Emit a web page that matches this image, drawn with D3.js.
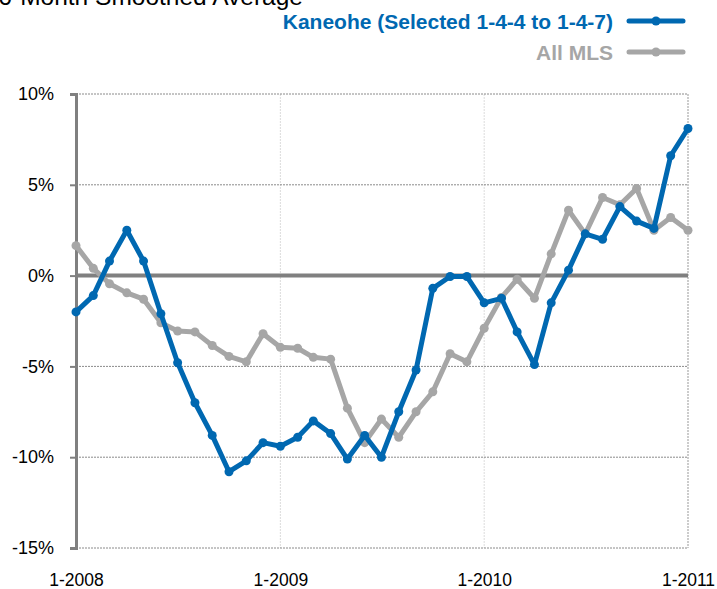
<!DOCTYPE html>
<html>
<head>
<meta charset="utf-8">
<script src="https://cdn.jsdelivr.net/npm/d3@7"></script>
<style>
  body { margin: 0; background: #fff; }
  svg { display: block; font-family: Arial, "Liberation Sans", sans-serif; }
</style>
</head>
<body>
<svg id="chart"></svg>
<script>
// chart data (monthly, 1-2008 .. 1-2011)
var startMonth = new Date(2008, 0, 1);
var kaneohe = [-2.0, -1.1, 0.8, 2.5, 0.8, -2.1, -4.8, -7.0, -8.8, -10.8, -10.2, -9.2, -9.4,
  -8.9, -8.0, -8.7, -10.1, -8.8, -10.0, -7.5, -5.2, -0.7, -0.05, -0.05, -1.5, -1.25,
  -3.1, -4.9, -1.5, 0.3, 2.3, 2.0, 3.8, 3.0, 2.6, 6.6, 8.1];
var allMls = [1.65, 0.4, -0.45, -0.95, -1.3, -2.6, -3.05, -3.1, -3.85, -4.45, -4.75, -3.2, -3.95,
  -4.0, -4.5, -4.6, -7.3, -9.2, -7.9, -8.9, -7.5, -6.4, -4.3, -4.75, -2.9, -1.2,
  -0.2, -1.25, 1.2, 3.6, 2.3, 4.3, 3.9, 4.8, 2.5, 3.2, 2.5];
var yTicks = [10, 5, 0, -5, -10, -15];
var xTickLabels = ["1-2008", "1-2009", "1-2010", "1-2011"];
var seriesNames = ["Kaneohe (Selected 1-4-4 to 1-4-7)", "All MLS"];

var width = 717, height = 589;
var blue = "#0068b1", grey = "#a6a6a6", axisGrey = "#808080";

var svg = d3.select("#chart").attr("width", width).attr("height", height);

var x = d3.scaleTime()
    .domain([startMonth, d3.timeMonth.offset(startMonth, 36)])
    .range([76, 688]);
var y = d3.scaleLinear().domain([-15, 10]).range([548, 94]);

function monthOf(i) { return d3.timeMonth.offset(startMonth, i); }

// title, cut off at top of the picture (as in the original)
svg.append("text")
    .attr("x", 303).attr("y", 5)
    .attr("text-anchor", "end")
    .attr("font-size", 24.5)
    .attr("fill", "#000")
    .text("6-Month Smoothed Average");

// gridlines
var years = xTickLabels.map(function (d, i) { return d3.timeYear.offset(startMonth, i); });
svg.append("g").selectAll("line")
    .data(years.slice(1, 3))
    .enter().append("line")
    .attr("x1", d => x(d)).attr("x2", d => x(d))
    .attr("y1", y(10)).attr("y2", y(-15))
    .attr("stroke", "#dcdcdc").attr("stroke-width", 1)
    .attr("stroke-dasharray", "2,1");

svg.append("line")
    .attr("x1", x(years[3])).attr("x2", x(years[3]))
    .attr("y1", y(10)).attr("y2", y(-15))
    .attr("stroke", "#999").attr("stroke-width", 1)
    .attr("stroke-dasharray", "2,1");

svg.append("g").selectAll("line")
    .data(yTicks.filter(d => d !== 0))
    .enter().append("line")
    .attr("x1", 76).attr("x2", 688)
    .attr("y1", d => y(d)).attr("y2", d => y(d))
    .attr("stroke", "#8a8a8a").attr("stroke-width", 1)
    .attr("stroke-dasharray", "2,1");

// y axis
var yAxis = d3.axisLeft(y)
    .tickValues(yTicks)
    .tickSize(6)
    .tickPadding(16)
    .tickFormat(d => d + "%");
var yg = svg.append("g").attr("transform", "translate(76,0)").call(yAxis);
yg.select(".domain").attr("stroke", axisGrey).attr("stroke-width", 3);
yg.selectAll(".tick line").attr("stroke", axisGrey).attr("stroke-width", 2);
yg.selectAll(".tick text").attr("font-size", 18).attr("fill", "#000")
    .attr("font-family", "Arial, 'Liberation Sans', sans-serif");

// zero line
svg.append("line")
    .attr("x1", 76).attr("x2", 688)
    .attr("y1", y(0)).attr("y2", y(0))
    .attr("stroke", axisGrey).attr("stroke-width", 4);

// x axis labels
var xAxis = d3.axisBottom(x)
    .tickValues(years)
    .tickSize(0)
    .tickPadding(26)
    .tickFormat((d, i) => xTickLabels[i]);
var xg = svg.append("g").attr("transform", "translate(0," + y(-15) + ")").call(xAxis);
xg.select(".domain").remove();
xg.selectAll(".tick text").attr("font-size", 17.5).attr("fill", "#000")
    .attr("font-family", "Arial, 'Liberation Sans', sans-serif");

// series
var line = d3.line()
    .x((d, i) => x(monthOf(i)))
    .y(d => y(d));

function drawSeries(values, color) {
    var g = svg.append("g");
    g.append("path")
        .datum(values)
        .attr("d", line)
        .attr("fill", "none")
        .attr("stroke", color)
        .attr("stroke-width", 5)
        .attr("stroke-linejoin", "round");
    g.selectAll("circle")
        .data(values)
        .enter().append("circle")
        .attr("cx", (d, i) => x(monthOf(i)))
        .attr("cy", d => y(d))
        .attr("r", 4.5)
        .attr("fill", color);
}
drawSeries(allMls, grey);
drawSeries(kaneohe, blue);

// legend
var legend = svg.append("g");
[[seriesNames[0], blue, 21], [seriesNames[1], grey, 52]].forEach(function (item) {
    legend.append("text")
        .attr("x", 613).attr("y", item[2] + 7.5)
        .attr("text-anchor", "end")
        .attr("font-size", 21).attr("font-weight", "bold")
        .attr("fill", item[1])
        .text(item[0]);
    legend.append("line")
        .attr("x1", 629).attr("x2", 683)
        .attr("y1", item[2]).attr("y2", item[2])
        .attr("stroke", item[1]).attr("stroke-width", 5)
        .attr("stroke-linecap", "round");
    legend.append("circle")
        .attr("cx", 656).attr("cy", item[2]).attr("r", 4.5)
        .attr("fill", item[1]);
});
</script>
</body>
</html>
